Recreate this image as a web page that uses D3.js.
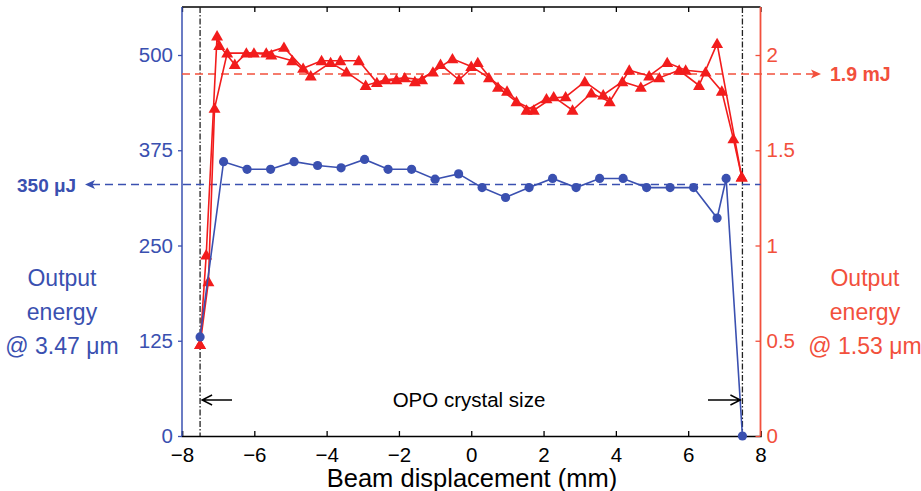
<!DOCTYPE html>
<html><head><meta charset="utf-8">
<script src="https://cdn.jsdelivr.net/npm/d3@7"></script>
<style>body{margin:0;background:#fff;} svg{display:block;font-family:"Liberation Sans",Arial,sans-serif;}</style>
</head><body><svg id="c" width="921" height="491"></svg>
<script>
// Blue: output energy @ 3.47 µm (µJ, left axis)
const blueX = [-7.5,-6.85,-6.2,-5.55,-4.9,-4.25,-3.6,-2.95,-2.3,-1.65,-1.0,-0.35,0.3,0.95,1.6,2.25,2.9,3.55,4.2,4.85,5.5,6.15,6.8,7.05,7.5];
const blueY = [130,360,350,350,360,355,352,363,350,350,337,344,326,313,326,338,326,338,338,326,326,326,286,338,0];
// Red: output energy @ 1.53 µm (mJ, right axis), two scans
const redAX = [-7.5,-7.33,-7.03,-6.97,-6.54,-6.22,-5.67,-5.18,-4.65,-4.14,-3.62,-3.11,-2.61,-2.07,-1.56,-1.06,-0.52,0.0,0.49,0.99,1.53,2.08,2.61,3.14,3.65,4.18,4.69,5.2,5.75,6.3,6.8,7.48];
const redAY = [0.48,0.95,2.10,2.05,1.95,2.01,2.01,2.04,1.93,1.97,1.97,1.97,1.855,1.87,1.86,1.91,1.98,1.94,1.88,1.81,1.71,1.77,1.78,1.86,1.79,1.86,1.83,1.88,1.92,1.84,2.06,1.36];
const redBX = [-7.5,-7.27,-7.1,-6.75,-6.01,-5.53,-4.95,-4.44,-3.89,-3.45,-2.92,-2.37,-1.84,-1.36,-0.85,-0.34,0.18,0.74,1.25,1.73,2.28,2.8,3.32,3.83,4.37,4.92,5.42,5.93,6.48,6.93,7.25,7.48];
const redBY = [0.48,0.81,1.72,2.01,2.01,2.0,1.97,1.89,1.96,1.91,1.84,1.87,1.88,1.87,1.95,1.87,1.96,1.83,1.755,1.71,1.78,1.71,1.80,1.755,1.92,1.89,1.96,1.92,1.91,1.81,1.56,1.36];
const xTicks = [-8,-6,-4,-2,0,2,4,6,8];
const leftTicks = [0,125,250,375,500];
const rightTicks = [0,0.5,1,1.5,2];
const blueRef = 330, redRef = 1.9, crystalEdges = [-7.5,7.5];

const svg = d3.select("#c");
const L=182, R=760.5, T=7, B=436;
const x = d3.scaleLinear().domain([-8,8]).range([L,R]);
const yL = d3.scaleLinear().domain([0,563]).range([B,T]);
const yR = d3.scaleLinear().domain([0,2.252]).range([B,T]);
const BLUE="#3a50b0", RED="#f21c1c", RAX="#f2503c";
const FF="Liberation Sans, Arial, sans-serif";

// frame top
svg.append("line").attr("x1",L).attr("x2",R).attr("y1",T).attr("y2",T).attr("stroke","#000").attr("stroke-width",1.3);
svg.append("g").attr("transform",`translate(0,${T})`).call(d3.axisTop(x).tickValues(xTicks).tickSize(-5).tickFormat(""))
  .call(g=>{g.select(".domain").remove(); g.selectAll("line").attr("stroke","#000").attr("stroke-width",1.3);});
// bottom axis
svg.append("g").attr("transform",`translate(0,${B})`).call(d3.axisBottom(x).tickValues(xTicks).tickSize(-5).tickPadding(11).tickFormat(d=>d<0?"\u2212"+(-d):d))
  .call(g=>{g.select(".domain").attr("stroke","#000").attr("stroke-width",1.5); g.selectAll("line").attr("stroke","#000").attr("stroke-width",1.3);
    g.selectAll("text").attr("font-size",20.5).attr("fill","#000").attr("font-family",FF);});
// left axis
svg.append("g").attr("transform",`translate(${L},0)`).call(d3.axisLeft(yL).tickValues(leftTicks).tickSize(4).tickPadding(5))
  .call(g=>{g.select(".domain").attr("stroke",BLUE).attr("stroke-width",1.5).attr("d",`M0,${B}V${T}`); g.selectAll("line").attr("stroke",BLUE).attr("stroke-width",1.3);
    g.selectAll("text").attr("font-size",20.5).attr("fill",BLUE).attr("font-family",FF);});
// right axis
svg.append("g").attr("transform",`translate(${R},0)`).call(d3.axisRight(yR).tickValues(rightTicks).tickSize(-5).tickPadding(6).tickFormat(d=>String(d)))
  .call(g=>{g.select(".domain").attr("stroke",RAX).attr("stroke-width",1.8).attr("d",`M0,${B}V${T}`); g.selectAll("line").attr("stroke",RAX).attr("stroke-width",1.3);
    g.selectAll("text").attr("font-size",20.5).attr("fill",RAX).attr("font-family",FF);});

// crystal edges
crystalEdges.forEach(v=>{
  svg.append("line").attr("x1",x(v)).attr("x2",x(v)).attr("y1",T).attr("y2",B).attr("stroke","#222").attr("stroke-width",1.3).attr("stroke-dasharray","6,2,1.5,2");
});

// reference dashed lines with arrowheads
const yb = yL(blueRef), yr = yR(redRef);
svg.append("line").attr("x1",92).attr("x2",R).attr("y1",yb).attr("y2",yb).attr("stroke",BLUE).attr("stroke-width",1.6).attr("stroke-dasharray","8,5");
svg.append("path").attr("d",`M85,${yb} L95,${yb-4.5} L92.5,${yb} L95,${yb+4.5} Z`).attr("fill",BLUE);
svg.append("line").attr("x1",L).attr("x2",814).attr("y1",yr).attr("y2",yr).attr("stroke",RAX).attr("stroke-width",1.6).attr("stroke-dasharray","8,5");
svg.append("path").attr("d",`M821,${yr} L811,${yr-4.5} L813.5,${yr} L811,${yr+4.5} Z`).attr("fill",RAX);
svg.append("text").attr("x",17).attr("y",yb+7).attr("font-size",19).attr("font-weight","bold").attr("fill",BLUE).text("350 \u03bcJ");
svg.append("text").attr("x",830).attr("y",yr+7).attr("font-size",19.5).attr("font-weight","bold").attr("fill",RAX).text("1.9 mJ");

// red series
const lineR = d3.line().x(d=>x(d[0])).y(d=>yR(d[1]));
[[redAX,redAY],[redBX,redBY]].forEach(([xs,ys])=>{
  const pts = xs.map((v,i)=>[v,ys[i]]);
  svg.append("path").attr("d",lineR(pts)).attr("fill","none").attr("stroke",RED).attr("stroke-width",1.6);
  svg.append("g").selectAll("path").data(pts).join("path")
    .attr("transform",d=>`translate(${x(d[0])},${yR(d[1])+1})`).attr("d",d3.symbol(d3.symbolTriangle,62)).attr("fill",RED);
});
// blue series
const bpts = blueX.map((v,i)=>[v,blueY[i]]);
svg.append("path").attr("d",d3.line().x(d=>x(d[0])).y(d=>yL(d[1]))(bpts)).attr("fill","none").attr("stroke",BLUE).attr("stroke-width",1.6);
svg.append("g").selectAll("circle").data(bpts).join("circle").attr("cx",d=>x(d[0])).attr("cy",d=>yL(d[1])).attr("r",4.6).attr("fill",BLUE);

// crystal size annotation
const xa = x(-7.5)+2, xb = x(7.5)-2;
svg.append("path").attr("d",`M${xa},400 H232 M${xa+10},395 L${xa},400 L${xa+10},405`).attr("fill","none").attr("stroke","#000").attr("stroke-width",1.4);
svg.append("path").attr("d",`M708,400 H${xb} M${xb-10},395 L${xb},400 L${xb-10},405`).attr("fill","none").attr("stroke","#000").attr("stroke-width",1.4);
svg.append("text").attr("x",469).attr("y",407).attr("text-anchor","middle").attr("font-size",20.5).attr("fill","#000").text("OPO crystal size");

// axis titles
svg.append("text").attr("x",472).attr("y",487).attr("text-anchor","middle").attr("font-size",25.5).attr("fill","#000").text("Beam displacement (mm)");
const lt = svg.append("text").attr("text-anchor","middle").attr("font-size",23).attr("fill",BLUE);
[["Output",286],["energy",320],["@ 3.47 \u03bcm",354]].forEach(([t,y])=>lt.append("tspan").attr("x",62).attr("y",y).text(t));
const rt = svg.append("text").attr("text-anchor","middle").attr("font-size",23).attr("fill",RAX);
[["Output",286],["energy",320],["@ 1.53 \u03bcm",354]].forEach(([t,y])=>rt.append("tspan").attr("x",865).attr("y",y).text(t));
</script></body></html>
